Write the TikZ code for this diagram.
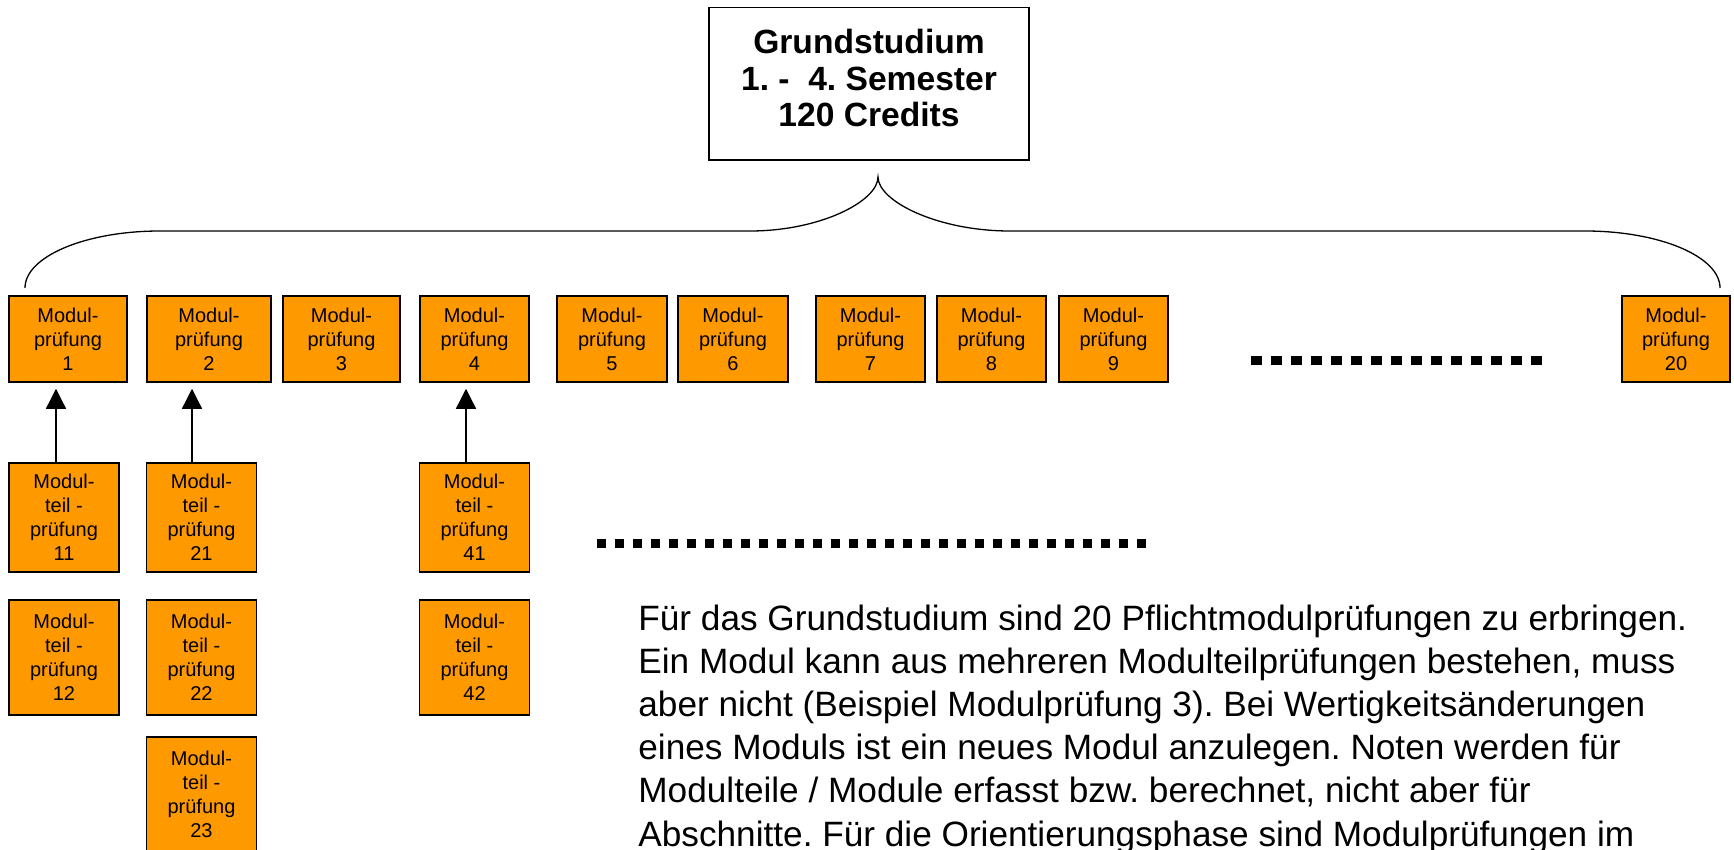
\documentclass[tikz,border=0pt]{standalone}
\usepackage{fontspec}
\setmainfont{Liberation Sans}
\usepackage{tikz}
\usetikzlibrary{arrows.meta}
\definecolor{modulorange}{HTML}{FF9900}
\frenchspacing

\begin{document}
\begin{tikzpicture}[
    x=0.5pt,y=-0.5pt,
    modul/.style={
        draw, line width=0.75pt, fill=modulorange,
        minimum height=43pt,
        align=center, inner sep=0pt, text depth=-4pt,
        font=\fontsize{10}{12}\selectfont
    },
    teil/.style={
        modul, minimum width=55pt, minimum height=57.5pt, text depth=-6pt
    },
    titel/.style={
        draw, line width=0.65pt,
        minimum width=160pt, minimum height=76.4pt,
        align=center, inner sep=0pt, text depth=5.7pt,
        font=\fontsize{16.8}{18.3}\selectfont\bfseries
    },
    sig/.style={-{Triangle[length=10pt,width=10pt]}, line width=0.65pt, shorten >=3pt},
    brace/.style={line width=0.65pt},
    dots/.style={line width=4.5pt, dash pattern=on 4.5pt off 4.5pt},
    txt/.style={inner sep=0pt, font=\fontsize{17.6}{21.6}\selectfont}
]
\useasboundingbox (0,0) rectangle (1734,850);
\clip (0,0) rectangle (1734,850);

% --- Title ---
\node[titel] (grund) at (869,83.7)
{Grundstudium\\1. -\ \ 4. Semester\\120 Credits};

% --- Module exams ---
\node[modul, minimum width=59pt] (m1) at (68,339) {Modul-\\prüfung\\1};
\node[modul, minimum width=62pt] (m2) at (209,339) {Modul-\\prüfung\\2};
\node[modul, minimum width=58.5pt] (m3) at (341.5,339) {Modul-\\prüfung\\3};
\node[modul, minimum width=54.5pt] (m4) at (474.5,339) {Modul-\\prüfung\\4};
\node[modul, minimum width=55pt] (m5) at (612,339) {Modul-\\prüfung\\5};
\node[modul, minimum width=55pt] (m6) at (733,339) {Modul-\\prüfung\\6};
\node[modul, minimum width=54.5pt] (m7) at (870.5,339) {Modul-\\prüfung\\7};
\node[modul, minimum width=54.5pt] (m8) at (991.5,339) {Modul-\\prüfung\\8};
\node[modul, minimum width=54.5pt] (m9) at (1113.5,339) {Modul-\\prüfung\\9};
\node[modul, minimum width=54pt] (m20) at (1676,339) {Modul-\\prüfung\\20};

% --- Partial exams ---
\node[teil, minimum height=54.5pt] (t11) at (64,517.5) {Modul-\\teil -\\prüfung\\11};
\node[teil] (t12) at (64,657.5) {Modul-\\teil -\\prüfung\\12};
\node[teil, minimum height=54.5pt] (t21) at (201.5,517.5) {Modul-\\teil -\\prüfung\\21};
\node[teil] (t22) at (201.5,657.5) {Modul-\\teil -\\prüfung\\22};
\node[teil] (t23) at (201.5,794.5) {Modul-\\teil -\\prüfung\\23};
\node[teil, minimum height=54.5pt] (t41) at (474.5,517.5) {Modul-\\teil -\\prüfung\\41};
\node[teil] (t42) at (474.5,657.5) {Modul-\\teil -\\prüfung\\42};

% --- Explanation ---
\node[txt, anchor=base west] (info) at (638,630)
{\begin{tabular}[t]{@{}l@{}}
Für das Grundstudium sind 20 Pflichtmodulprüfungen zu erbringen.\\
Ein Modul kann aus mehreren Modulteilprüfungen bestehen, muss\\
aber nicht (Beispiel Modulprüfung 3). Bei Wertigkeitsänderungen\\
eines Moduls ist ein neues Modul anzulegen. Noten werden für\\
Modulteile / Module erfasst bzw. berechnet, nicht aber für\\
Abschnitte. Für die Orientierungsphase sind Modulprüfungen im
\end{tabular}};

% --- Brace ---
\coordinate (brL) at (25,288);
\coordinate (brM) at (878,177);
\coordinate (brR) at (1720,288);
\draw[brace] (brL) .. controls (25,256.5) and (85.5,231) .. (160,231) -- (750,231)
    .. controls (820.7,231) and (878,201) .. (brM)
    .. controls (878,201) and (937,231) .. (1010,231) -- (1585,231)
    .. controls (1659.5,231) and (1720,256.5) .. (brR);

% --- Arrows ---
\draw[sig] ([xshift=-4pt]t11.north) -- ([xshift=-4pt]t11.north |- m1.south);
\draw[sig] ([xshift=-4.75pt]t21.north) -- ([xshift=-4.75pt]t21.north |- m2.south);
\draw[sig] ([xshift=-4.25pt]t41.north) -- ([xshift=-4.25pt]t41.north |- m4.south);

% --- Dots ---
\coordinate (dotsA) at (1251,360);
\coordinate (dotsB) at (1542,360);
\coordinate (dotsC) at (597,543);
\coordinate (dotsD) at (1148,543);
\draw[dots, dash pattern=on 5.5pt off 4.5pt] (dotsA) -- (dotsB);
\draw[dots] (dotsC) -- (dotsD);

\end{tikzpicture}
\end{document}
